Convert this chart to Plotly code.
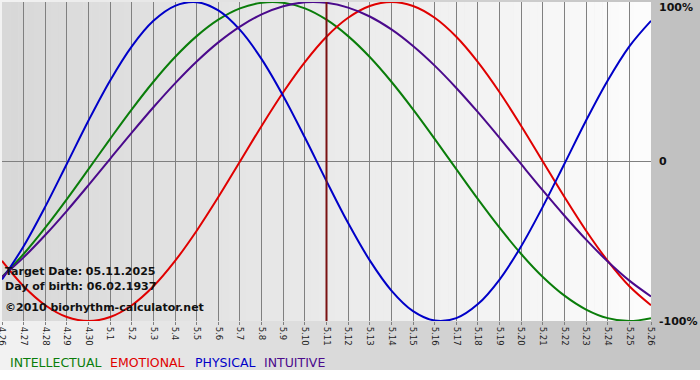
import plotly.graph_objects as go

# ---- data ----
day_labels = ["4.26", "4.27", "4.28", "4.29", "4.30",
              "5.1", "5.2", "5.3", "5.4", "5.5", "5.6", "5.7", "5.8", "5.9", "5.10",
              "5.11", "5.12", "5.13", "5.14", "5.15", "5.16", "5.17", "5.18", "5.19",
              "5.20", "5.21", "5.22", "5.23", "5.24", "5.25", "5.26"]

intellectual = [-0.724, -0.580, -0.415, -0.236, -0.048, 0.142, 0.327, 0.500, 0.655, 0.786,
                0.889, 0.960, 0.995, 0.995, 0.960, 0.889, 0.786, 0.655, 0.500, 0.327,
                0.142, -0.048, -0.236, -0.415, -0.580, -0.724, -0.841, -0.928, -0.982, -1.000,
                -0.982]
emotional = [-0.623, -0.782, -0.901, -0.975, -1.000, -0.975, -0.901, -0.782, -0.623, -0.434,
             -0.223, 0.000, 0.223, 0.434, 0.623, 0.782, 0.901, 0.975, 1.000, 0.975,
             0.901, 0.782, 0.623, 0.434, 0.223, 0.000, -0.223, -0.434, -0.623, -0.782,
             -0.901]
physical = [-0.740, -0.531, -0.283, -0.014, 0.257, 0.508, 0.722, 0.882, 0.976, 0.999,
            0.947, 0.825, 0.642, 0.411, 0.150, -0.123, -0.386, -0.620, -0.809, -0.938,
            -0.997, -0.982, -0.894, -0.740, -0.531, -0.283, -0.014, 0.257, 0.508, 0.722,
            0.882]
intuitive = [-0.724, -0.601, -0.461, -0.309, -0.148, 0.017, 0.181, 0.340, 0.490, 0.627,
             0.747, 0.846, 0.922, 0.973, 0.998, 0.995, 0.965, 0.909, 0.828, 0.724,
             0.601, 0.461, 0.309, 0.148, -0.017, -0.181, -0.340, -0.490, -0.627, -0.747,
             -0.846]

target_label = "5.11"
series_names = ["INTELLECTUAL", "EMOTIONAL", "PHYSICAL", "INTUITIVE"]
y_tick_labels = ["100%", "0", "-100%"]
info_lines = ["Target Date: 05.11.2025", "Day of birth: 06.02.1937",
              "\u00a92010 biorhythm-calculator.net"]

# ---- styling ----
colors = {"INTELLECTUAL": "#0a7d0a", "EMOTIONAL": "#e00000",
          "PHYSICAL": "#0000c8", "INTUITIVE": "#4b0a8c"}
W, H = 700, 380
L, R, T, B = 2, 651, 2, 321
PW, PH = R - L, B - T


def fx(px):
    return (px - L) / PW


def fy(py):
    return (B - py) / PH


def mix(c0, c1, t):
    v = round(c0 + (c1 - c0) * t)
    return "rgb(%d,%d,%d)" % (v, v, v)


xs = list(range(len(day_labels)))
fig = go.Figure()
for name, vals in zip(series_names, [intellectual, emotional, physical, intuitive]):
    fig.add_trace(go.Scatter(x=xs, y=vals, mode="lines", name=name,
                             line=dict(color=colors[name], width=2, shape="spline", smoothing=1),
                             hoverinfo="skip", showlegend=False))

shapes = []
# outer background gradient (horizontal)
n_out = 70
for k in range(n_out):
    x0 = k * W / n_out
    x1 = (k + 1) * W / n_out + 0.5
    shapes.append(dict(type="rect", xref="paper", yref="paper", layer="below",
                       x0=fx(x0), x1=fx(x1), y0=fy(370), y1=fy(0),
                       fillcolor=mix(242, 192, k / (n_out - 1)), line=dict(width=0)))
# plot area gradient
n_in = 80
for k in range(n_in):
    x0 = L + k * PW / n_in
    x1 = L + (k + 1) * PW / n_in + 0.5
    shapes.append(dict(type="rect", xref="paper", yref="paper", layer="below",
                       x0=fx(x0), x1=fx(min(x1, R)), y0=0, y1=1,
                       fillcolor=mix(216, 252, k / (n_in - 1)), line=dict(width=0)))
# target date line
ti = day_labels.index(target_label)
shapes.append(dict(type="line", xref="x", yref="paper", x0=ti, x1=ti, y0=0, y1=1,
                   line=dict(color="#7a1212", width=2), layer="above"))

annotations = []
for txt, py in zip(info_lines, [271, 286, 307]):
    annotations.append(dict(text="<b>%s</b>" % txt, xref="paper", yref="paper",
                            x=fx(3), y=fy(py), xanchor="left", yanchor="middle",
                            showarrow=False,
                            font=dict(family="DejaVu Sans", size=11, color="#111")))
for txt, py in zip(y_tick_labels, [8, 162, 322]):
    annotations.append(dict(text="<b>%s</b>" % txt, xref="paper", yref="paper",
                            x=fx(657), y=fy(py), xanchor="left", yanchor="middle",
                            showarrow=False,
                            font=dict(family="DejaVu Sans", size=11, color="#111")))
for name, px in zip(series_names, [8, 108, 193, 262]):
    annotations.append(dict(text=name, xref="paper", yref="paper",
                            x=fx(px), y=fy(362), xanchor="left", yanchor="middle",
                            showarrow=False,
                            font=dict(family="DejaVu Sans", size=12.5, color=colors[name])))

fig.update_layout(
    width=W, height=H,
    margin=dict(l=L, r=W - R, t=T, b=H - B, pad=0, autoexpand=False),
    paper_bgcolor="#ffffff",
    plot_bgcolor="rgba(0,0,0,0)",
    shapes=shapes,
    annotations=annotations,
    showlegend=False,
    hovermode=False,
    xaxis=dict(range=[0, len(day_labels) - 1], tickmode="array", tickvals=xs,
               ticktext=day_labels, tickangle=90, showgrid=True, gridcolor="#808080",
               gridwidth=1, zeroline=False, ticks="outside", ticklen=3, tickcolor="#808080",
               showline=False, tickfont=dict(family="DejaVu Sans", size=8.5, color="#222"),
               ticklabeloverflow="allow", automargin=False, fixedrange=True),
    yaxis=dict(range=[-1, 1], tickmode="array", tickvals=[-1, 0], showticklabels=False,
               showgrid=True, gridcolor="#808080", gridwidth=1, zeroline=False,
               showline=False, ticks="", automargin=False, fixedrange=True),
)

fig.write_html("out.html", config={"displayModeBar": False, "staticPlot": True},
               post_script="document.body.style.margin='0';document.body.style.overflow='hidden';")
